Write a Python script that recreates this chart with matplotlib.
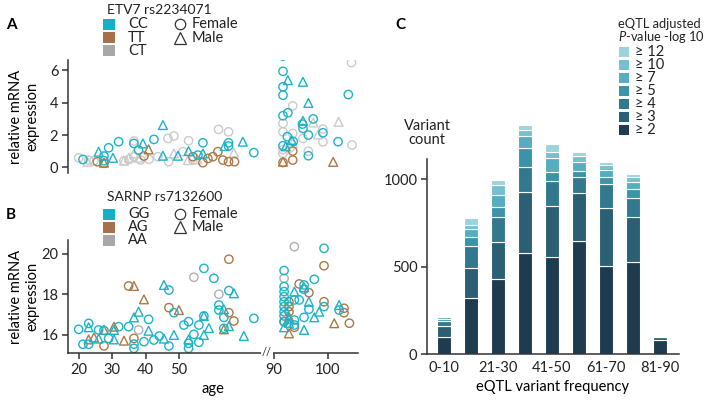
import numpy as np
import matplotlib
matplotlib.use("Agg")
import matplotlib.pyplot as plt
from matplotlib.patches import Rectangle

plt.rcParams['font.family'] = ['Lato', 'DejaVu Sans']
plt.rcParams['font.size'] = 10
plt.rcParams['mathtext.fontset'] = 'custom'
plt.rcParams['mathtext.rm'] = 'Lato'
plt.rcParams['mathtext.it'] = 'Lato:italic'

# ---------------- data ----------------
# panel A: ETV7 rs2234071 (age, relative expression)
a_cc_f = [(21.2,0.49),(27.5,0.70),(27.5,0.41),(28.9,1.21),(31.9,1.59),(36.5,1.48),(37.9,1.07),
          (42.5,1.73),(55.7,0.76),(57.2,1.52),(64.9,1.52),(64.9,1.32),(72.5,0.91),
          (91.7,6.89),(91.7,5.95),(91.7,4.99),(91.7,4.47),(91.7,3.2),(92.6,3.38),(91.7,1.34),
          (92.5,1.9),(93.6,1.6),(95.3,2.68),(95.4,2.41),(96.4,2.0),(97.3,3.0),(99.1,2.14),
          (101.9,1.59),(103.8,4.51),(96.4,0.72)]
a_cc_m = [(25.9,0.97),(30.2,0.59),(39.2,1.48),(45.2,2.62),(45.2,0.72),(49.7,0.72),(52.9,1.01),
          (57.2,0.86),(63.7,1.32),(69.2,1.59),(92.6,5.4),(95.4,5.3),(96.4,3.99),(95.4,2.88),
          (93.3,1.7),(92.2,1.3)]
a_tt_f = [(25.5,0.35),(27.5,0.25),(39.5,0.70),(54.2,0.66),(57.2,0.29),(58.7,0.55),(60.2,0.66),
          (61.7,0.97),(63.2,0.45),(64.9,0.35),(66.7,0.35),(93.5,1.01),(93.5,0.45),(91.7,0.3)]
a_tt_m = [(27.5,0.29),(40.9,1.11),(91.7,0.35),(101.0,0.34)]
a_ct_f = [(19.9,0.59),(22.9,0.45),(24.5,0.4),(33.5,0.41),(35.0,0.49),(36.5,1.63),(36.5,0.66),
          (38.5,0.45),(41.0,0.5),(43.7,0.66),(46.7,1.79),(48.5,1.94),(46.9,0.35),(51.2,0.97),
          (52.9,1.65),(54.2,0.45),(61.9,2.35),(64.9,2.2),(104.4,6.49),(93.5,3.81),(91.7,2.72),
          (91.7,2.2),(91.7,0.86),(93.5,2.1),(95.4,1.79),(99.1,2.37),(99.1,1.58),(104.5,1.38),
          (91.7,1.1),(93.0,1.2),(96.4,1.0)]
a_ct_m = [(22.5,0.35),(33.5,0.41),(35.0,0.6),(36.5,0.86),(38.0,0.6),(48.5,0.86),(52.7,0.45),
          (55.5,0.5),(66.5,0.91),(97.3,2.78),(102.0,2.82),(98.2,2.04),(93.5,1.5)]

# panel B: SARNP rs7132600
b_gg_f = [(19.9,16.28),(21.2,15.54),(22.9,16.57),(22.9,15.54),(25.9,16.25),(27.5,16.22),(28.9,15.83),
          (31.9,16.41),(34.9,16.41),(36.5,15.55),(36.5,15.34),(39.5,15.67),(40.9,16.77),(42.5,15.75),
          (44.1,15.95),(47.0,18.22),(47.0,15.46),(48.5,17.1),(51.5,16.49),(52.9,16.66),(52.9,15.59),
          (52.9,15.34),(54.5,16.03),(56.0,16.49),(56.0,15.64),(57.5,19.29),(57.5,16.94),(60.5,18.8),
          (62.0,17.48),(62.0,17.23),(63.5,16.87),(65.0,18.19),(63.5,16.33),(72.5,16.82),
          (91.9,19.18),(91.9,18.39),(91.9,18.14),(91.9,17.89),(91.9,17.64),(91.9,17.4),(91.9,17.15),
          (91.9,16.94),(91.9,16.66),(93.8,16.74),(93.8,16.49),(93.8,17.73),(95.6,18.47),(95.6,18.26),
          (97.5,18.75),(94.7,17.73),(96.5,17.27),(95.6,16.87),(99.3,20.28),(99.3,17.4),(102.1,17.23)]
b_gg_m = [(22.9,16.38),(25.9,15.82),(30.5,15.78),(30.5,16.25),(36.5,16.87),(37.9,17.15),(40.9,16.21),
          (45.5,18.47),(45.5,15.82),(48.5,16.0),(52.9,15.78),(57.5,16.94),(57.5,16.0),(59.0,16.34),
          (63.5,17.27),(65.0,16.44),(66.5,18.06),(69.5,15.95),(91.9,16.38),(92.8,16.8),(92.8,16.6),
          (93.8,18.14),(95.6,18.36),(96.5,17.64),(98.4,17.15),(97.5,16.87),(95.6,16.25),(102.1,17.48)]
b_ag_f = [(27.5,15.46),(34.9,18.42),(36.5,15.83),(47.0,17.35),(65.0,19.74),(65.0,17.1),(66.5,16.69),
          (99.3,19.42),(91.9,16.66),(92.8,17.64),(92.8,17.4),(92.8,17.15),(93.8,16.38),(94.7,18.52),
          (96.5,18.09),(99.3,17.64),(103.0,17.32),(103.0,17.1),(104.0,16.58)]
b_ag_m = [(22.9,15.78),(24.5,15.88),(27.5,16.25),(30.5,16.41),(33.5,15.72),(36.5,18.42),(39.5,17.76),
          (50.0,17.23),(63.5,16.28),(92.8,16.08),(92.8,16.9),(101.2,16.58)]
b_aa_f = [(37.9,16.25),(54.5,18.85),(62.0,18.01),(93.8,20.36),(91.9,18.8)]

# panel C: variant counts per frequency bin, one list per p-value class
freq_bins = ['0-10', '11-20', '21-30', '31-40', '41-50', '51-60', '61-70', '71-80', '81-90']
p_classes = ['≥ 2', '≥ 3', '≥ 4', '≥ 5', '≥ 7', '≥ 10', '≥ 12']
n_ge2 = [100, 323, 427, 576, 555, 649, 504, 528, 80]
n_ge3 = [60, 169, 216, 351, 294, 271, 334, 258, 17]
n_ge4 = [28, 126, 139, 142, 139, 95, 133, 105, 3]
n_ge5 = [15, 54, 58, 108, 52, 33, 44, 54, 1]
n_ge7 = [10, 46, 70, 71, 84, 53, 38, 38, 1]
n_ge10 = [5, 22, 57, 34, 34, 34, 29, 28, 1]
n_ge12 = [5, 36, 29, 29, 44, 19, 15, 19, 2]
c_colors = ['#1f3b50', '#2b5f74', '#33798e', '#3c93a7', '#56adc1', '#76c0cd', '#9dd3dc']

cyan, brown, grey = '#1db3c7', '#ad7845', '#cbcbcb'
W, H = 709, 400
dark = '#333333'

# age axis with a break between ~76 and ~89
age_knots = [0, 76, 89, 200]
u_knots = [0, 76, 76.88, 78.5 + 110 * 1.62]
def fwd(a):
    return np.interp(a, age_knots, u_knots)
def inv(u):
    return np.interp(u, u_knots, age_knots)

fig = plt.figure(figsize=(W / 100, H / 100), dpi=100)

def px_axes(l, t, r, b):
    return fig.add_axes([l / W, 1 - b / H, (r - l) / W, (b - t) / H])

def style(ax):
    for s in ['top', 'right']:
        ax.spines[s].set_visible(False)
    for s in ['left', 'bottom']:
        ax.spines[s].set_color(dark)
        ax.spines[s].set_linewidth(1.1)
    ax.tick_params(colors=dark, labelcolor='#222222', length=4, width=1.1, labelsize=10.5, pad=3)
    ax.patch.set_visible(False)

def scatter_groups(ax, groups):
    for pts, col, mk in groups:
        arr = np.array(pts)
        ax.scatter(arr[:, 0], arr[:, 1], marker=mk, facecolors='none', edgecolors=col,
                   s=36 if mk == 'o' else 40, linewidths=1.0)

# ---- panel A ----
axA = px_axes(68, 60, 358, 173)
axA.set_xscale('function', functions=(fwd, inv))
scatter_groups(axA, [(a_ct_f, grey, 'o'), (a_ct_m, grey, '^'), (a_tt_f, brown, 'o'),
                     (a_tt_m, brown, '^'), (a_cc_f, cyan, 'o'), (a_cc_m, cyan, '^')])
axA.set_xlim(16.7, 105.6)
axA.set_ylim(-0.35, 6.65)
style(axA)
axA.spines['bottom'].set_visible(False)
axA.set_xticks([])
axA.set_yticks([0, 2, 4, 6])
axA.set_ylabel('relative mRNA\nexpression', fontsize=10.5)
axA.yaxis.set_label_coords(-0.1, 0.5)

# ---- panel B ----
axB = px_axes(68, 240, 358, 353)
axB.set_xscale('function', functions=(fwd, inv))
scatter_groups(axB, [(b_aa_f, '#b0b0b0', 'o'), (b_ag_f, brown, 'o'), (b_ag_m, brown, '^'),
                     (b_gg_f, cyan, 'o'), (b_gg_m, cyan, '^')])
axB.set_xlim(16.7, 105.6)
axB.set_ylim(15.11, 20.69)
style(axB)
axB.set_xticks([20, 30, 40, 50, 90, 100])
axB.set_xticks([], minor=True)
axB.set_yticks([16, 18, 20])
axB.set_xlabel('age', fontsize=10.5, labelpad=4)
axB.set_ylabel('relative mRNA\nexpression', fontsize=10.5)
axB.yaxis.set_label_coords(-0.1, 0.5)
axB.text(82.5, 15.11, '//', ha='center', va='center', fontsize=8, color=dark,
         bbox=dict(facecolor='white', edgecolor='none', pad=0.6), clip_on=False)

# ---- panel C ----
axC = px_axes(427, 100, 679, 354)
x = np.arange(len(freq_bins))
bottom = np.zeros(len(freq_bins))
for vals, col in zip([n_ge2, n_ge3, n_ge4, n_ge5, n_ge7, n_ge10, n_ge12], c_colors):
    axC.bar(x, vals, bottom=bottom, width=0.52, color=col, edgecolor='white', linewidth=0.8)
    bottom += np.array(vals)
axC.set_xlim(-0.63, 8.7)
axC.set_ylim(0, 1454)
style(axC)
axC.spines['left'].set_bounds(0, 1115)
axC.set_yticks([0, 500, 1000])
axC.set_xticks(x[::2])
axC.set_xticklabels(freq_bins[::2])
axC.tick_params(axis='x', length=0, pad=5)
axC.set_xlabel('eQTL variant frequency', fontsize=10.5, labelpad=4)

# ---- overlay for legends / panel letters (pixel coordinates) ----
ov = fig.add_axes([0, 0, 1, 1])
ov.set_xlim(0, W)
ov.set_ylim(H, 0)
ov.axis('off')
ov.patch.set_visible(False)

for letter, lx, ly in [('A', 11, 25), ('B', 11, 215), ('C', 400, 25)]:
    ov.text(lx, ly, letter, fontsize=11, fontweight='bold', ha='center', va='center')

def geno_legend(title, ty, rows, labels, colors):
    ov.text(107, ty, title, fontsize=10, va='center', ha='left', color='#222222')
    for ry, lab, col in zip(rows, labels, colors):
        ov.add_patch(Rectangle((103, ry - 5.5), 12, 11, color=col, lw=0))
        ov.text(128, ry, lab, fontsize=10.5, va='center', ha='left', color='#222222')
    ov.plot([180], [rows[0]], marker='o', ms=7.5, mfc='none', mec='#333333', mew=0.9)
    ov.plot([180], [rows[1]], marker='^', ms=8, mfc='none', mec='#333333', mew=0.9)
    ov.text(192, rows[0], 'Female', fontsize=10.5, va='center', ha='left', color='#222222')
    ov.text(192, rows[1], 'Male', fontsize=10.5, va='center', ha='left', color='#222222')

geno_legend('ETV7 rs2234071', 9.5, [24.3, 37.7, 50.7], ['CC', 'TT', 'CT'],
            ['#14b0c5', '#a6714a', '#a8a8a8'])
geno_legend('SARNP rs7132600', 197, [214, 227, 240], ['GG', 'AG', 'AA'],
            ['#14b0c5', '#a6714a', '#a8a8a8'])

ov.text(618, 24, 'eQTL adjusted', fontsize=9.3, va='center', ha='left', color='#222222')
ov.text(618, 36.7, '$P$-value -log 10', fontsize=9.3, va='center', ha='left', color='#222222')
leg_y = [52.3, 65.2, 78.1, 91.0, 103.9, 116.8, 129.7]
for ry, lab, col in zip(leg_y, p_classes[::-1], c_colors[::-1]):
    ov.add_patch(Rectangle((619, ry - 5), 10, 10, color=col, lw=0))
    ov.text(635, ry, lab, fontsize=10.5, va='center', ha='left', color='#222222')

ov.text(427, 133, 'Variant\ncount', fontsize=10.5, ha='center', va='center',
        linespacing=1.0, color='#222222')

fig.savefig('out.png', dpi=100)
